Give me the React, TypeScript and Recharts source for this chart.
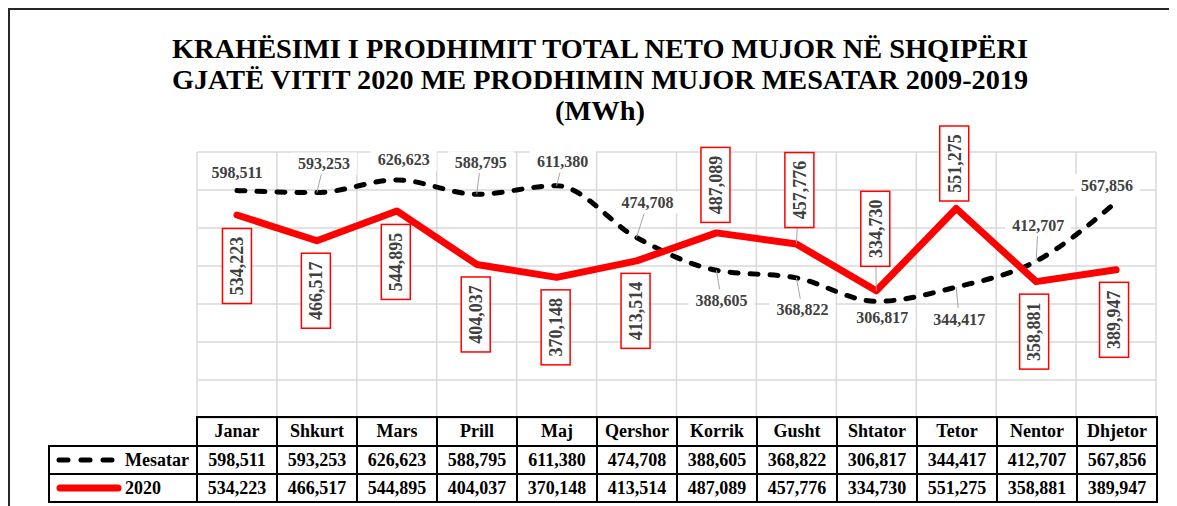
import { CartesianGrid, LabelList, Line, LineChart, XAxis, YAxis } from 'recharts'

const months = ['Janar', 'Shkurt', 'Mars', 'Prill', 'Maj', 'Qershor', 'Korrik', 'Gusht', 'Shtator', 'Tetor', 'Nentor', 'Dhjetor']
const mesatar = [598511, 593253, 626623, 588795, 611380, 474708, 388605, 368822, 306817, 344417, 412707, 567856]
const prod2020 = [534223, 466517, 544895, 404037, 370148, 413514, 487089, 457776, 334730, 551275, 358881, 389947]
const yTicks = [0, 100000, 200000, 300000, 400000, 500000, 600000, 700000]
const seriesNames = ['Mesatar', '2020']
const titleLines = [
  'KRAHËSIMI I PRODHIMIT TOTAL NETO MUJOR NË SHQIPËRI',
  'GJATË VITIT 2020 ME PRODHIMIN MUJOR MESATAR 2009-2019',
  '(MWh)',
]

// label placement relative to the point: dx, dy, leader line
const avgLabelPos = [
  [0, -18, 0], [7, -29, 1], [7, -20, 0], [4, -32, 1], [6, -24, 1], [11, -35, 1],
  [5, 30, 1], [6, 32, 1], [6, 16, 0], [3, 32, 1], [2, -36, 1], [-9, -17, 0],
]
const redLabelPos = [
  [0, 51, 0], [-1, 50, 0], [-1, 51, 0], [-1, 50, 0], [-1, 50, 0], [-1, 50, 0],
  [-1, -48, 0], [3, -54, 1], [-1, -62, 1], [-2, -45, 0], [-2, 50, 0], [-2, 50, 0],
]

const W = 1169
const H = 420
const FONT = '"Liberation Serif", "Times New Roman", serif'
const COL_W = 80
const LABEL_COL_W = 148

const fmt = (v: number) => v.toLocaleString('en-US')

const data = months.map((m, i) => ({ month: m, pos: i + 0.5, mesatar: mesatar[i], y2020: prod2020[i] }))
const xTicks = Array.from({ length: months.length + 1 }, (_, i) => i)

function AvgLabel(props: any) {
  const { x, y, value, index } = props
  if (typeof x !== 'number' || typeof y !== 'number') return null
  const [dx, dy, leader] = avgLabelPos[index] ?? [0, -20, 0]
  const cx = x + dx
  const cy = y + dy
  return (
    <g>
      {leader ? <line x1={x} y1={y} x2={cx} y2={cy} stroke="#a6a6a6" strokeWidth={1} /> : null}
      <rect x={cx - 33} y={cy - 11} width={66} height={22} fill="#fff" />
      <text x={cx} y={cy} dy="0.35em" textAnchor="middle" fontFamily={FONT} fontWeight="bold" fontSize={16} fill="#404040">
        {fmt(value)}
      </text>
    </g>
  )
}

function RedLabel(props: any) {
  const { x, y, value, index } = props
  if (typeof x !== 'number' || typeof y !== 'number') return null
  const [dx, dy, leader] = redLabelPos[index] ?? [0, 50, 0]
  const cx = x + dx
  const cy = y + dy
  return (
    <g>
      {leader ? <line x1={x} y1={y} x2={cx} y2={cy} stroke="#a6a6a6" strokeWidth={1} /> : null}
      <rect x={cx - 14.5} y={cy - 37.5} width={29} height={75} fill="#fff" stroke="#ff0000" strokeWidth={1.5} />
      <text
        x={cx}
        y={cy}
        dy="0.35em"
        textAnchor="middle"
        transform={`rotate(-90 ${cx} ${cy})`}
        fontFamily={FONT}
        fontWeight="bold"
        fontSize={18}
        fill="#404040"
      >
        {fmt(value)}
      </text>
    </g>
  )
}

const cellBorder = '2px solid #000'
const cellStyle: React.CSSProperties = {
  border: cellBorder,
  width: COL_W - 2,
  padding: 0,
  textAlign: 'center',
  fontWeight: 'bold',
  fontSize: 18,
  height: 26,
}

function LegendSample({ dashed }: { dashed: boolean }) {
  return (
    <svg width={68} height={12} style={{ display: 'block', marginLeft: 6, marginRight: 1 }}>
      {dashed ? (
        <line x1={3} y1={6} x2={57} y2={6} stroke="#000" strokeWidth={5} strokeDasharray="9 13" strokeLinecap="round" />
      ) : (
        <line x1={4} y1={6} x2={62} y2={6} stroke="#ff0000" strokeWidth={7} strokeLinecap="round" />
      )}
    </svg>
  )
}

export default function App() {
  const rows = [
    { name: seriesNames[0], values: mesatar, dashed: true },
    { name: seriesNames[1], values: prod2020, dashed: false },
  ]
  return (
    <div style={{ position: 'relative', width: W, height: 498, fontFamily: FONT, background: '#fff' }}>
      <div
        style={{
          position: 'absolute',
          left: 0,
          top: 0,
          width: W - 2,
          height: 496,
          borderLeft: '2px solid #262626',
          borderTop: '2px solid #262626',
        }}
      />
      <svg width={W} height={130} style={{ position: 'absolute', left: 0, top: 0 }}>
        {titleLines.map((t, i) => (
          <text
            key={i}
            x={592}
            y={50 + i * 31}
            textAnchor="middle"
            fontFamily={FONT}
            fontWeight="bold"
            fontSize={28}
            fill="#000"
            textLength={i < 2 ? 856 : 90}
            lengthAdjust="spacingAndGlyphs"
          >
            {t}
          </text>
        ))}
      </svg>
      <div style={{ position: 'absolute', left: 0, top: 0 }}>
        <LineChart width={W} height={H} data={data} margin={{ top: 144, right: 21, bottom: H - 410, left: 189 }}>
          <CartesianGrid stroke="#d9d9d9" strokeWidth={1.5} />
          <XAxis dataKey="pos" type="number" domain={[0, months.length]} ticks={xTicks} hide />
          <YAxis domain={[0, 700000]} ticks={yTicks} hide />
          <Line
            dataKey="mesatar"
            type="monotone"
            stroke="#000"
            strokeWidth={5}
            strokeDasharray="8 12"
            strokeLinecap="round"
            dot={false}
            isAnimationActive={false}
          >
            <LabelList dataKey="mesatar" content={AvgLabel} />
          </Line>
          <Line
            dataKey="y2020"
            type="linear"
            stroke="#ff0000"
            strokeWidth={7}
            strokeLinecap="round"
            strokeLinejoin="round"
            dot={false}
            isAnimationActive={false}
          >
            <LabelList dataKey="y2020" content={RedLabel} />
          </Line>
        </LineChart>
      </div>
      <table
        style={{
          position: 'absolute',
          left: 40,
          top: 408,
          borderCollapse: 'collapse',
          tableLayout: 'fixed',
          fontFamily: FONT,
          color: '#000',
        }}
      >
        <tbody>
          <tr>
            <td style={{ width: LABEL_COL_W - 2, border: 'none', padding: 0, height: 27 }} />
            {months.map((m) => (
              <td key={m} style={{ ...cellStyle, height: 27 }}>
                {m}
              </td>
            ))}
          </tr>
          {rows.map((r) => (
            <tr key={r.name}>
              <td style={{ ...cellStyle, width: LABEL_COL_W - 2, textAlign: 'left' }}>
                <div style={{ display: 'flex', alignItems: 'center' }}>
                  <LegendSample dashed={r.dashed} />
                  <span>{r.name}</span>
                </div>
              </td>
              {r.values.map((v, i) => (
                <td key={i} style={cellStyle}>
                  {fmt(v)}
                </td>
              ))}
            </tr>
          ))}
        </tbody>
      </table>
    </div>
  )
}
